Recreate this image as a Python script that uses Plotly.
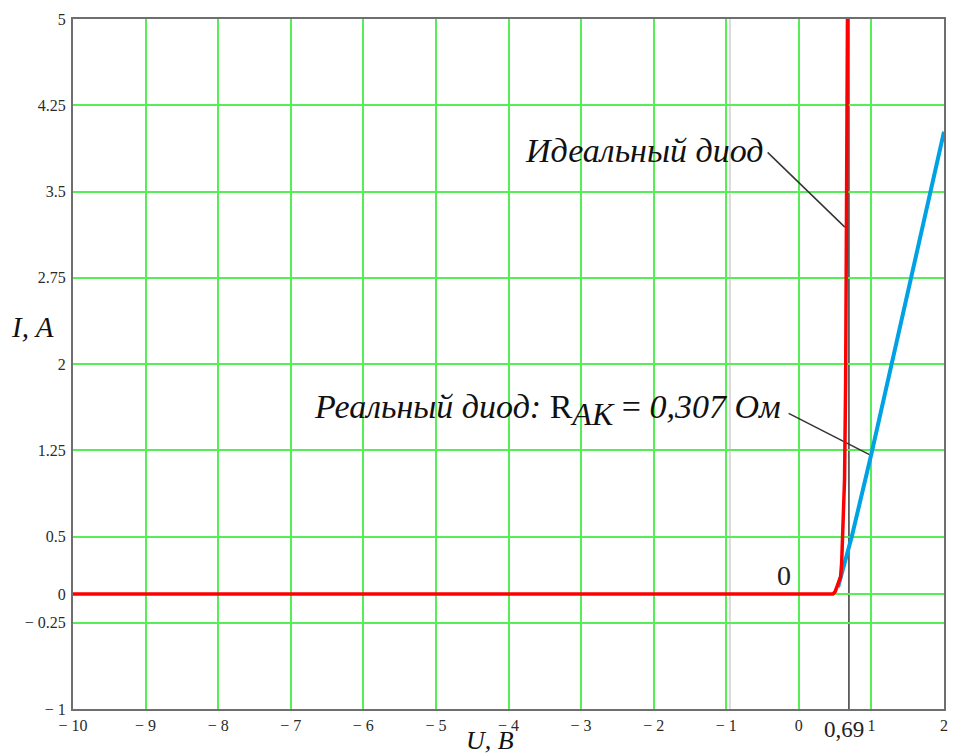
import plotly.graph_objects as go

# ---- data ----
ideal_u = [-10, 0.47, 0.50, 0.54, 0.575, 0.59, 0.60, 0.61, 0.62, 0.63, 0.645, 0.655, 0.67]
ideal_i = [0, 0, 0.02, 0.08, 0.15, 0.27, 0.41, 0.70, 0.85, 1.0, 1.86, 3.4, 5.0]

real_u = [0.54, 0.73, 1.0, 1.28, 1.54, 1.795, 2.0]
real_i = [0.06, 0.5, 1.22, 2.0, 2.74, 3.46, 4.02]

x_ticks = [-10, -9, -8, -7, -6, -5, -4, -3, -2, -1, 0, 1, 2]
x_ticktext = ["− 10", "− 9", "− 8", "− 7", "− 6", "− 5", "− 4", "− 3", "− 2", "− 1", "0", "1", "2"]
y_ticks = [5, 4.25, 3.5, 2.75, 2, 1.25, 0.5, 0, -0.25, -1]
y_ticktext = ["5", "4.25", "3.5", "2.75", "2", "1.25", "0.5", "0", "− 0.25", "− 1"]

u_marker = 0.69
u_marker_label = "0,69"
ghost_u = -0.95

leader_ideal_u = [-0.43, 0.634]
leader_ideal_i = [3.84, 3.19]
leader_real_u = [-0.14, 0.98]
leader_real_i = [1.57, 1.21]

label_ideal = "<i>Идеальный диод</i>"
label_real = ("<i>Реальный диод:</i> R<sub><span style='font-size:32px'><i>AK</i></span></sub>"
              " = <i>0,307 Ом</i>")

FONT = "Liberation Serif, Times New Roman, serif"
GREEN = "rgb(85,238,85)"
BORDER = "#6e6e6e"

fig = go.Figure()

# leader lines
fig.add_trace(go.Scatter(x=leader_ideal_u, y=leader_ideal_i, mode="lines",
                         line=dict(color="#333333", width=1.5), showlegend=False, hoverinfo="skip"))
fig.add_trace(go.Scatter(x=leader_real_u, y=leader_real_i, mode="lines",
                         line=dict(color="#333333", width=1.5), showlegend=False, hoverinfo="skip"))

# curves
fig.add_trace(go.Scatter(x=real_u, y=real_i, mode="lines",
                         line=dict(color="rgb(0,162,228)", width=4), showlegend=False))
fig.add_trace(go.Scatter(x=ideal_u, y=ideal_i, mode="lines",
                         line=dict(color="#ff0000", width=3.5), showlegend=False))

# marker lines (x=0, x=0.69, y=0) and faint gray line
fig.add_shape(type="line", xref="x", yref="paper", x0=ghost_u, x1=ghost_u, y0=0, y1=1,
              line=dict(color="#d9d9d9", width=2), layer="below")
fig.add_shape(type="line", xref="x", yref="paper", x0=0, x1=0, y0=0, y1=1,
              line=dict(color="#3a3a3a", width=1.5), layer="below")
fig.add_shape(type="line", xref="x", yref="paper", x0=u_marker, x1=u_marker, y0=0, y1=1,
              line=dict(color="#3a3a3a", width=1.5), layer="below")
fig.add_shape(type="line", xref="paper", yref="y", x0=0, x1=1, y0=0, y1=0,
              line=dict(color="#3a3a3a", width=1.5), layer="below")

annotations = [
    dict(x=-0.47, y=3.86, xref="x", yref="y", text=label_ideal, showarrow=False,
         xanchor="right", yanchor="middle", font=dict(family=FONT, size=34, color="#111")),
    dict(x=-0.22, y=1.6, xref="x", yref="y", text=label_real, showarrow=False,
         xanchor="right", yanchor="middle", font=dict(family=FONT, size=34, color="#111")),
    dict(x=-0.047, y=0.554, xref="paper", yref="paper", text="<i>I, A</i>", showarrow=False,
         xanchor="center", yanchor="middle", font=dict(family=FONT, size=29, color="#111")),
    dict(x=0.479, y=-0.046, xref="paper", yref="paper", text="<i>U, B</i>", showarrow=False,
         xanchor="center", yanchor="middle", font=dict(family=FONT, size=26, color="#111")),
    dict(x=u_marker, y=-0.029, xref="x", yref="paper", text=u_marker_label, showarrow=False,
         xanchor="center", yanchor="middle", xshift=-5,
         font=dict(family=FONT, size=23, color="#222")),
    dict(x=-0.08, y=0.16, xref="x", yref="y", text="0", showarrow=False,
         xanchor="right", yanchor="middle",
         font=dict(family=FONT, size=28, color="#222")),
]

fig.update_layout(
    width=953, height=755,
    margin=dict(l=73, r=9, t=19, b=46, autoexpand=False),
    paper_bgcolor="white", plot_bgcolor="white",
    annotations=annotations,
    showlegend=False,
    xaxis=dict(range=[-10, 2], tickvals=x_ticks, ticktext=x_ticktext,
               showgrid=True, gridcolor=GREEN, gridwidth=1.5, zeroline=False,
               showline=True, linecolor=BORDER, linewidth=2, mirror=True, ticks="",
               ticklabelstandoff=1, automargin=False,
               tickfont=dict(family=FONT, size=16, color="#2a2a2a")),
    yaxis=dict(range=[-1, 5], tickvals=y_ticks, ticktext=y_ticktext,
               showgrid=True, gridcolor=GREEN, gridwidth=1.5, zeroline=False,
               showline=True, linecolor=BORDER, linewidth=2, mirror=True, ticks="",
               ticklabelstandoff=2, automargin=False,
               tickfont=dict(family=FONT, size=16, color="#2a2a2a")),
)

fig.write_html("out.html")
